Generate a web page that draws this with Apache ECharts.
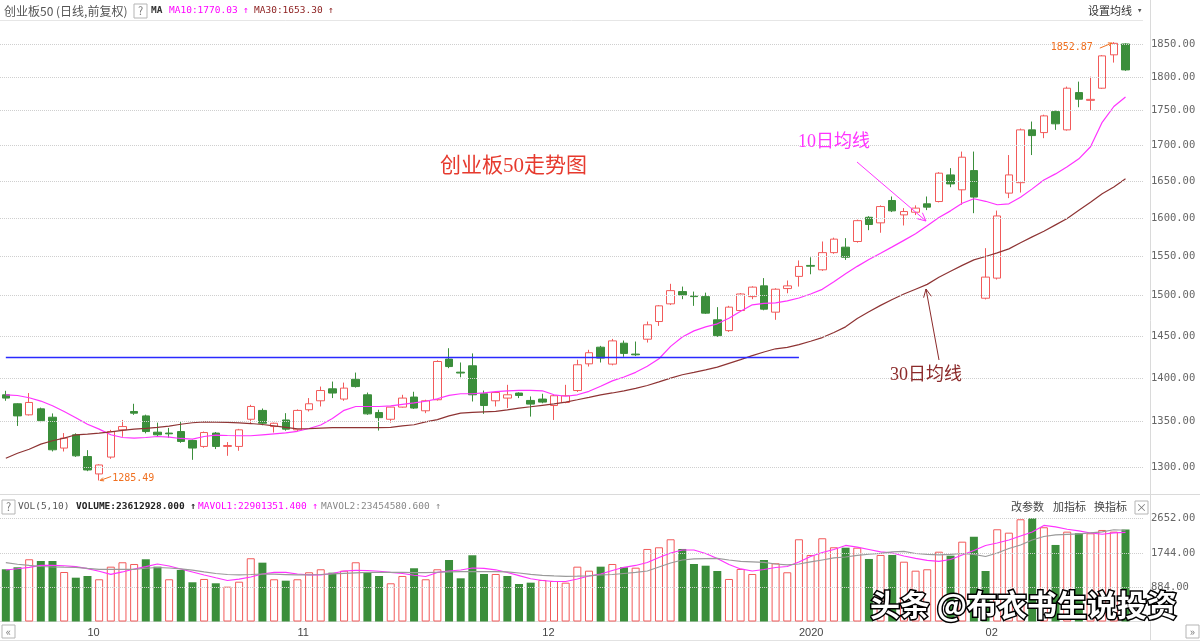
<!DOCTYPE html>
<html>
<head>
<meta charset="utf-8">
<title>创业板50走势图</title>
<script src="https://cdn.jsdelivr.net/npm/echarts@6.0.0/dist/echarts.min.js"></script>
<style>
  html, body { margin: 0; padding: 0; background: #fff; }
  #chart { width: 1200px; height: 641px; }
</style>
</head>
<body>
<div id="chart"></div>
<script>
// trading days shown on the chart
const dates = [
  '2019-09-20','2019-09-23','2019-09-24','2019-09-25','2019-09-26','2019-09-27','2019-09-30',
  '2019-10-08','2019-10-09','2019-10-10','2019-10-11','2019-10-14','2019-10-15','2019-10-16','2019-10-17','2019-10-18',
  '2019-10-21','2019-10-22','2019-10-23','2019-10-24','2019-10-25','2019-10-28','2019-10-29','2019-10-30','2019-10-31',
  '2019-11-01','2019-11-04','2019-11-05','2019-11-06','2019-11-07','2019-11-08','2019-11-11','2019-11-12','2019-11-13',
  '2019-11-14','2019-11-15','2019-11-18','2019-11-19','2019-11-20','2019-11-21','2019-11-22','2019-11-25','2019-11-26',
  '2019-11-27','2019-11-28','2019-11-29',
  '2019-12-02','2019-12-03','2019-12-04','2019-12-05','2019-12-06','2019-12-09','2019-12-10','2019-12-11','2019-12-12',
  '2019-12-13','2019-12-16','2019-12-17','2019-12-18','2019-12-19','2019-12-20','2019-12-23','2019-12-24','2019-12-25',
  '2019-12-26','2019-12-27','2019-12-30','2019-12-31',
  '2020-01-02','2020-01-03','2020-01-06','2020-01-07','2020-01-08','2020-01-09','2020-01-10','2020-01-13','2020-01-14',
  '2020-01-15','2020-01-16','2020-01-17','2020-01-20','2020-01-21','2020-01-22','2020-01-23',
  '2020-02-03','2020-02-04','2020-02-05','2020-02-06','2020-02-07','2020-02-10','2020-02-11','2020-02-12','2020-02-13',
  '2020-02-14','2020-02-17','2020-02-18','2020-02-19'
];

const opens = [
  1380.7,1370.4,1357.8,1364.6,1355.1,1320.7,1335.4,1311.4,1292.5,1310.8,
  1340.9,1361.6,1356.6,1338.3,1337.3,1339.0,1329.1,1322.5,1337.3,1322.5,
  1322.5,1352.8,1362.8,1344.6,1352.0,1340.9,1363.6,1373.8,1387.6,1375.8,
  1398.7,1380.7,1360.4,1352.8,1366.6,1378.1,1362.4,1375.0,1422.4,1407.0,
  1414.5,1381.9,1373.8,1376.9,1382.7,1374.2,1375.8,1368.4,1371.9,1385.6,
  1416.8,1436.6,1416.5,1441.4,1428.4,1446.2,1467.7,1489.5,1504.8,1499.3,
  1498.5,1469.8,1456.6,1481.2,1498.5,1512.0,1479.2,1508.6,1524.0,1538.0,
  1532.4,1554.5,1561.6,1569.0,1601.0,1593.6,1623.6,1604.2,1607.8,1619.1,
  1622.2,1658.6,1638.1,1664.6,1496.5,1521.8,1633.6,1647.9,1722.1,1718.2,
  1748.5,1722.1,1776.5,1765.0,1783.0,1833.3,1850.0
];
const closes = [
  1376.9,1356.6,1371.9,1351.2,1318.8,1331.7,1312.2,1296.8,1302.2,1339.0,
  1344.6,1359.7,1339.0,1335.4,1336.5,1328.0,1320.7,1337.9,1322.5,1323.5,
  1340.9,1367.3,1348.3,1348.3,1341.7,1362.8,1370.4,1385.6,1382.7,1388.4,
  1390.2,1358.9,1354.6,1366.6,1376.9,1365.5,1373.8,1419.6,1413.6,1406.0,
  1380.7,1368.4,1383.3,1380.7,1379.9,1370.0,1372.3,1379.6,1379.6,1415.7,
  1430.0,1423.6,1444.2,1429.2,1427.5,1463.7,1487.0,1506.0,1500.6,1498.5,
  1478.0,1450.5,1485.4,1501.8,1510.4,1482.9,1507.8,1512.0,1536.7,1537.0,
  1554.5,1572.1,1548.5,1596.5,1591.4,1615.4,1609.6,1608.7,1613.3,1614.6,
  1661.0,1646.2,1683.3,1628.2,1523.1,1602.8,1658.6,1722.1,1713.9,1742.3,
  1730.8,1783.0,1766.7,1766.5,1831.7,1851.0,1810.4
];
const lows = [
  1373.8,1345.3,1357.0,1349.5,1317.0,1316.9,1311.0,1295.5,1285.49,1308.9,
  1333.2,1357.8,1337.0,1333.5,1332.1,1326.5,1307.8,1321.0,1319.6,1312.2,
  1317.7,1348.3,1346.0,1337.9,1340.0,1339.7,1361.6,1367.3,1376.9,1373.8,
  1389.0,1357.8,1340.1,1349.0,1366.0,1364.5,1359.7,1374.0,1411.7,1401.0,
  1373.0,1358.9,1367.3,1365.5,1376.9,1355.8,1371.0,1352.0,1371.0,1384.0,
  1413.6,1418.4,1415.0,1425.2,1426.0,1442.2,1462.4,1488.0,1495.3,1487.0,
  1477.0,1449.0,1455.0,1480.0,1495.3,1481.5,1469.8,1502.7,1511.1,1526.7,
  1531.0,1553.0,1545.1,1567.5,1583.9,1580.5,1608.0,1590.1,1604.0,1610.6,
  1621.0,1641.7,1617.8,1606.5,1495.0,1520.0,1626.8,1634.4,1686.3,1710.2,
  1722.1,1721.0,1754.9,1749.9,1782.0,1821.5,1809.0
];
const highs = [
  1385.3,1371.0,1382.7,1366.0,1359.4,1337.3,1337.0,1318.4,1303.0,1340.9,
  1352.0,1370.4,1358.0,1349.0,1343.1,1350.1,1330.0,1339.0,1338.5,1327.3,
  1342.0,1369.2,1365.0,1349.0,1359.7,1364.0,1376.9,1390.2,1396.0,1394.8,
  1406.5,1383.3,1363.6,1367.0,1380.7,1384.2,1375.0,1421.0,1435.4,1418.4,
  1429.2,1385.6,1385.0,1392.2,1383.5,1378.8,1381.9,1380.5,1392.2,1421.6,
  1433.5,1438.2,1446.6,1444.6,1443.4,1467.7,1488.0,1514.6,1511.1,1504.8,
  1503.5,1485.4,1487.0,1503.0,1511.5,1521.8,1509.0,1518.8,1544.4,1548.5,
  1569.0,1574.0,1573.4,1598.0,1602.5,1617.0,1629.0,1613.3,1617.0,1629.0,
  1662.5,1668.0,1691.2,1691.2,1560.3,1610.0,1686.3,1724.0,1734.1,1744.0,
  1750.0,1785.4,1792.8,1800.2,1833.0,1852.87,1851.0
];

const ma10 = [
  1380.7,1379.9,1377.3,1373.5,1368.1,1361.6,1354.6,1347.2,1341.7,1335.4,
  1332.4,1331.7,1332.4,1333.5,1332.8,1331.3,1330.6,1333.5,1335.1,1334.6,
  1334.3,1334.3,1335.4,1336.5,1337.6,1339.3,1342.4,1346.4,1353.7,1362.9,
  1367.3,1367.3,1367.3,1368.1,1369.8,1371.5,1373.3,1376.1,1380.1,1381.9,
  1381.9,1383.0,1384.4,1385.3,1385.7,1385.7,1385.3,1380.7,1379.0,1380.7,
  1384.7,1390.5,1396.8,1401.4,1406.8,1413.9,1422.8,1437.6,1448.9,1456.3,
  1461.2,1464.9,1471.7,1480.3,1488.3,1490.1,1490.7,1493.2,1496.8,1501.8,
  1507.6,1517.1,1527.3,1536.8,1545.7,1553.7,1562.0,1570.5,1579.1,1589.6,
  1600.8,1609.6,1619.8,1625.9,1622.5,1617.8,1619.1,1627.9,1639.4,1651.6,
  1660.0,1669.8,1681.0,1698.0,1733.0,1756.0,1770.0
];
const ma30 = [
  1309.6,1315.0,1319.4,1325.0,1328.8,1331.7,1335.4,1336.1,1337.2,1338.7,
  1340.4,1341.7,1342.6,1343.7,1345.0,1347.2,1348.9,1349.8,1349.5,1349.2,
  1348.7,1348.0,1346.9,1345.3,1343.7,1342.0,1342.2,1342.9,1343.5,1343.5,
  1343.5,1343.5,1343.5,1343.7,1345.3,1346.6,1349.8,1352.4,1356.6,1359.7,
  1360.7,1361.2,1361.7,1363.5,1365.5,1367.0,1368.6,1370.2,1372.3,1375.0,
  1377.8,1380.7,1382.8,1385.3,1388.2,1391.4,1395.6,1400.0,1404.0,1406.7,
  1409.7,1413.0,1417.4,1421.8,1426.6,1430.9,1434.7,1436.3,1439.7,1443.8,
  1448.2,1454.4,1461.2,1471.3,1479.6,1487.6,1495.0,1501.8,1507.8,1513.9,
  1522.8,1530.5,1538.1,1545.1,1549.5,1554.1,1559.4,1567.3,1575.1,1582.4,
  1590.9,1599.4,1610.3,1621.1,1632.6,1642.1,1653.3
];

// volume in units of 10,000 shares
const volumes = [
  1342,1393,1599,1555,1555,1272,1126,1170,1085,1409,
  1522,1478,1599,1409,1085,1324,1008,1093,982,895,
  1023,1625,1512,1085,1049,1085,1265,1342,1255,1306,
  1522,1265,1170,982,1170,1368,1085,1342,1581,1110,
  1702,1221,1221,1170,964,998,1067,1041,998,1409,
  1306,1409,1478,1393,1383,1864,1907,2113,1864,1478,
  1434,1298,1093,1350,1221,1581,1496,1265,2113,1710,
  2139,1907,1897,1897,1607,1710,1710,1537,1306,1342,
  1794,1692,2051,2180,1298,2370,2283,2627,2652,2422,
  1967,2309,2267,2267,2352,2309,2361
];
// 1 = red (up) bar, 0 = green (down) bar
const volUp = [
  0,0,1,0,0,1,0,0,1,1,
  1,1,0,0,1,0,0,1,0,1,
  1,1,0,1,0,1,1,1,0,1,
  1,0,0,1,1,0,1,1,0,0,
  0,0,1,0,0,0,1,1,1,1,
  1,0,1,0,1,1,1,1,0,0,
  0,0,1,1,1,0,1,1,1,1,
  1,1,0,1,0,1,0,1,1,1,
  1,0,1,0,0,1,1,1,0,1,
  0,1,0,1,1,1,0
];
const mavol1 = [
  1324,1355,1393,1440,1440,1432,1409,1357,1291,1213,
  1273,1350,1409,1478,1427,1350,1273,1196,1124,1054,
  1088,1144,1221,1260,1260,1221,1196,1196,1234,1298,
  1316,1311,1291,1260,1234,1188,1157,1260,1298,1324,
  1375,1363,1329,1260,1180,1098,1054,1028,1028,1093,
  1170,1221,1311,1393,1440,1517,1645,1761,1838,1838,
  1748,1620,1465,1350,1298,1337,1388,1414,1530,1671,
  1774,1851,1954,1910,1851,1787,1761,1684,1620,1573,
  1543,1594,1710,1825,1954,2018,2095,2198,2301,2468,
  2430,2370,2327,2275,2242,2275,2290
];
const mavol2 = [
  1512,1471,1440,1414,1401,1396,1393,1363,1342,1342,
  1342,1342,1368,1388,1375,1350,1319,1273,1234,1208,
  1196,1208,1221,1216,1206,1196,1196,1208,1226,1239,
  1252,1260,1265,1262,1260,1257,1257,1265,1273,1280,
  1280,1280,1280,1273,1247,1213,1183,1170,1162,1165,
  1170,1196,1208,1234,1260,1298,1401,1504,1581,1607,
  1617,1620,1581,1543,1530,1517,1478,1453,1478,1530,
  1581,1633,1658,1697,1728,1753,1787,1800,1748,1723,
  1710,1723,1748,1723,1671,1761,1877,1967,2095,2185,
  2224,2237,2250,2275,2301,2358,2345
];

const priceTicks = [1300, 1350, 1400, 1450, 1500, 1550, 1600, 1650, 1700, 1750, 1800, 1850];
const volTicks = [884, 1744, 2652];
const monthMarks = {
  '2019-10-08': '10', '2019-11-01': '11', '2019-12-02': '12', '2020-01-02': '2020', '2020-02-03': '02'
};
const resistance = 1425;          // hand drawn blue line
const resistanceTo = '2020-01-02';

const RED = '#f25a5a';
const GREEN = '#3b8e3b';
const BLUE = '#2a2aff';
const MONO = '"DejaVu Sans Mono", monospace';
const CJK = '"Noto Sans CJK SC", sans-serif';

const cats = dates.concat(['']);
const chart = echarts.init(document.getElementById('chart'));

function tickLines(values) {
  return {
    silent: true,
    symbol: ['none', 'none'],
    animation: false,
    lineStyle: { type: 'dotted', color: '#cfcfcf', width: 1 },
    label: { show: true, position: 'end', distance: 8, formatter: '{b}', color: '#666', fontFamily: MONO, fontSize: 10.5 },
    data: values.map(v => ({ yAxis: v, name: v.toFixed(2) }))
  };
}

const option = {
  animation: false,
  backgroundColor: '#fff',
  grid: [
    { left: 0, top: 25, width: 1143, height: 465 },
    { left: 0, top: 518.3, width: 1143, height: 103.2 }
  ],
  xAxis: [
    { type: 'category', gridIndex: 0, data: cats, axisLine: { show: false }, axisTick: { show: false },
      axisLabel: { show: false }, splitLine: { show: false } },
    { type: 'category', gridIndex: 1, data: cats, axisLine: { lineStyle: { color: '#dedede' } }, axisTick: { show: false },
      splitLine: { show: false },
      axisLabel: {
        interval: (i, v) => !!monthMarks[v],
        formatter: v => monthMarks[v] || '',
        align: 'left', margin: 6, color: '#444', fontSize: 11, fontFamily: 'Liberation Sans, sans-serif'
      } }
  ],
  yAxis: [
    { type: 'log', logBase: 10, gridIndex: 0, position: 'right', min: 1275.3, max: 1879.5,
      axisLine: { show: false }, axisTick: { show: false }, axisLabel: { show: false }, splitLine: { show: false } },
    { type: 'value', gridIndex: 1, position: 'right', min: 0, max: 2652,
      axisLine: { show: false }, axisTick: { show: false }, axisLabel: { show: false }, splitLine: { show: false } }
  ],
  series: [
    {
      name: 'K', type: 'candlestick', xAxisIndex: 0, yAxisIndex: 0, barWidth: 8,
      data: dates.map((d, i) => [opens[i], closes[i], lows[i], highs[i]]),
      itemStyle: { color: '#ffffff', color0: GREEN, borderColor: RED, borderColor0: GREEN, borderWidth: 1 },
      markLine: tickLines(priceTicks)
    },
    {
      name: 'MA10', type: 'line', xAxisIndex: 0, yAxisIndex: 0, data: ma10, symbol: 'none',
      lineStyle: { color: '#ff33ff', width: 1.2 },
      markLine: {
        silent: true, symbol: ['none', 'none'], animation: false, label: { show: false },
        itemStyle: { color: BLUE },
        lineStyle: { color: BLUE, width: 1.3, type: 'solid', opacity: 1 },
        data: [[
          { coord: [dates[0], resistance], lineStyle: { color: BLUE } },
          { coord: [resistanceTo, resistance] }
        ]]
      }
    },
    {
      name: 'MA30', type: 'line', xAxisIndex: 0, yAxisIndex: 0, data: ma30, symbol: 'none',
      lineStyle: { color: '#8e3434', width: 1.2 }
    },
    {
      name: 'VOL', type: 'bar', xAxisIndex: 1, yAxisIndex: 1, barWidth: 8,
      data: volumes.map((v, i) => ({
        value: v,
        itemStyle: volUp[i] ? { color: '#ffffff', borderColor: RED, borderWidth: 1 } : { color: GREEN }
      })),
      markLine: tickLines(volTicks)
    },
    {
      name: 'MAVOL1', type: 'line', xAxisIndex: 1, yAxisIndex: 1, data: mavol1, symbol: 'none',
      lineStyle: { color: '#ff33ff', width: 1.2 }
    },
    {
      name: 'MAVOL2', type: 'line', xAxisIndex: 1, yAxisIndex: 1, data: mavol2, symbol: 'none',
      lineStyle: { color: '#9a9a9a', width: 1.2 }
    }
  ]
};
chart.setOption(option);

// ---- decorations ----
function txt(x, y, text, font, fill, align) {
  return { type: 'text', x, y, silent: true, z: 50,
    style: { text, font, fill, align: align || 'left', verticalAlign: 'middle' } };
}
function line(x1, y1, x2, y2, color) {
  return { type: 'line', silent: true, z: 40, shape: { x1, y1, x2, y2 }, style: { stroke: color, lineWidth: 1 } };
}
function box(x, y, w, h, label) {
  return [
    { type: 'rect', silent: true, z: 45, shape: { x, y, width: w, height: h },
      style: { fill: '#fff', stroke: '#b5b5b5', lineWidth: 1 } },
    txt(x + w / 2, y + h / 2, label, '11px ' + CJK, '#777', 'center')
  ];
}
function arrow(x1, y1, x2, y2, color, head) {
  const a = Math.atan2(y2 - y1, x2 - x1);
  const h = head || 7;
  const p1 = [x2 - h * Math.cos(a - 0.45), y2 - h * Math.sin(a - 0.45)];
  const p2 = [x2 - h * Math.cos(a + 0.45), y2 - h * Math.sin(a + 0.45)];
  return [
    line(x1, y1, x2, y2, color),
    { type: 'polyline', silent: true, z: 40, shape: { points: [p1, [x2, y2], p2] },
      style: { stroke: color, fill: null, lineWidth: 1 } }
  ];
}

const hiIdx = highs.indexOf(Math.max(...highs));
const loIdx = lows.indexOf(Math.min(...lows));
const hi = chart.convertToPixel({ xAxisIndex: 0, yAxisIndex: 0 }, [hiIdx, highs[hiIdx]]);
const lo = chart.convertToPixel({ xAxisIndex: 0, yAxisIndex: 0 }, [loIdx, lows[loIdx]]);

const g = [].concat(
  // frame lines
  line(0, 20.5, 1143, 20.5, '#e6e6e6'),
  line(0, 494.5, 1200, 494.5, '#dadada'),
  line(1150.5, 0, 1150.5, 641, '#dadada'),
  line(0, 640.5, 1200, 640.5, '#e2e2e2'),
  // main header
  txt(4, 11, '创业板50 (日线,前复权)', '12px ' + CJK, '#555'),
  box(134, 4, 13, 14, '?'),
  txt(151, 11, 'MA', 'bold 9.5px ' + MONO, '#333'),
  txt(169, 11, 'MA10:1770.03 ↑', '9.5px ' + MONO, '#ff00ff'),
  txt(254, 11, 'MA30:1653.30 ↑', '9.5px ' + MONO, '#8b1c1c'),
  txt(1088, 11, '设置均线', '11px ' + CJK, '#333'),
  txt(1137, 11, '▾', '9px ' + MONO, '#555'),
  // volume header
  box(2, 500, 13, 14, '?'),
  txt(18, 507, 'VOL(5,10)', '9.5px ' + MONO, '#555'),
  txt(76, 507, 'VOLUME:23612928.000 ↑', 'bold 9.5px ' + MONO, '#222'),
  txt(198, 507, 'MAVOL1:22901351.400 ↑', '9.5px ' + MONO, '#ff00ff'),
  txt(321, 507, 'MAVOL2:23454580.600 ↑', '9.5px ' + MONO, '#888'),
  txt(1011, 507, '改参数', '11px ' + CJK, '#444'),
  txt(1053, 507, '加指标', '11px ' + CJK, '#444'),
  txt(1094, 507, '换指标', '11px ' + CJK, '#444'),
  box(1135, 501, 13, 13, '×'),
  // scroll buttons
  box(2, 625, 13, 13, '«'),
  box(1186, 625, 13, 13, '»'),
  // annotations
  txt(440, 166, '创业板50走势图', '21px "Liberation Serif", "Noto Sans CJK SC"', '#e63a2e'),
  txt(798, 142, '10日均线', '18px "Liberation Serif", "Noto Sans CJK SC"', '#ff33ff'),
  arrow(857, 162, 926, 221, '#ff33ff', 9),
  txt(890, 375, '30日均线', '18px "Liberation Serif", "Noto Sans CJK SC"', '#8b2a2a'),
  arrow(939, 360, 926, 289, '#8b2a2a', 9),
  // max / min markers
  txt(hi[0] - 21, hi[1] + 5, highs[hiIdx].toFixed(2), '10px ' + MONO, '#f07020', 'right'),
  arrow(hi[0] - 14, hi[1] + 6, hi[0] - 2, hi[1] + 1, '#f07020', 4),
  txt(lo[0] + 13, lo[1] - 2, lows[loIdx].toFixed(2), '10px ' + MONO, '#f07020'),
  arrow(lo[0] + 12, lo[1] - 4, lo[0] + 1, lo[1], '#f07020', 4),
  // watermark
  { type: 'text', x: 870, y: 605, silent: true, z: 60,
    style: { text: '头条 @布衣书生说投资', font: 'bold 30px ' + CJK, fill: '#fff', stroke: '#000', lineWidth: 3,
      align: 'left', verticalAlign: 'middle' } }
);
chart.setOption({ graphic: g });
</script>
</body>
</html>
